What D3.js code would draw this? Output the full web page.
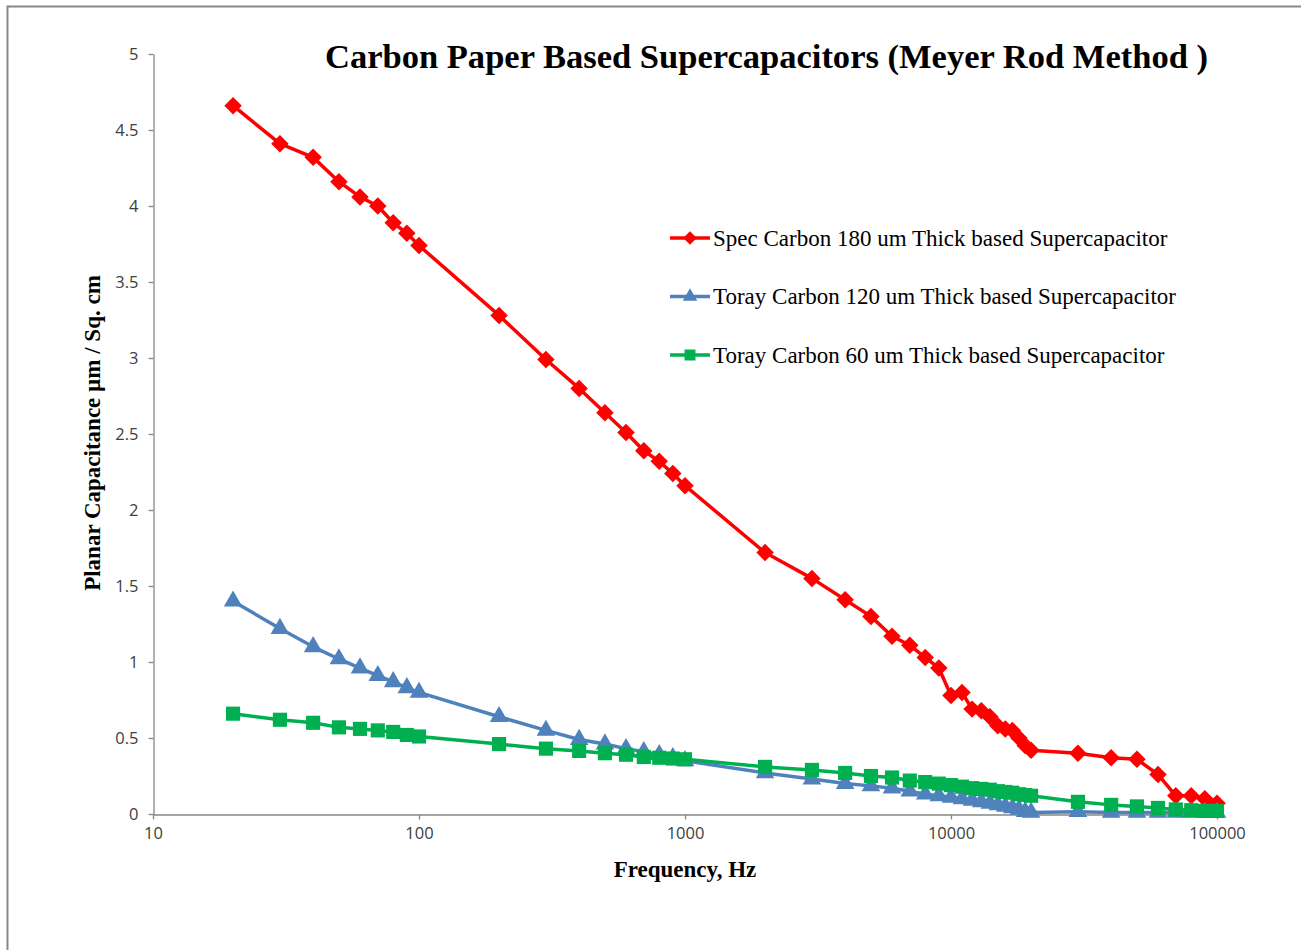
<!DOCTYPE html>
<html>
<head>
<meta charset="utf-8">
<script src="https://cdnjs.cloudflare.com/ajax/libs/d3/7.8.5/d3.min.js"></script>
<style>
  body { margin: 0; background: #fff; }
</style>
</head>
<body>
<div id="chart"></div>
<script>
// Frequencies (Hz) shared by all three series
const freqs = [20, 30, 40, 50, 60, 70, 80, 90, 100,
    200, 300, 400, 500, 600, 700, 800, 900, 1000,
    2000, 3000, 4000, 5000, 6000, 7000, 8000, 9000, 10000,
    11000, 12000, 13000, 14000, 15000, 16000, 17000, 18000, 19000, 20000,
    30000, 40000, 50000, 60000, 70000, 80000, 90000, 100000];

// Planar capacitance
const specCarbon180 = [4.66, 4.41, 4.32, 4.16, 4.06, 4.00, 3.89, 3.82, 3.74,
    3.28, 2.99, 2.80, 2.64, 2.51, 2.39, 2.32, 2.24, 2.16,
    1.72, 1.55, 1.41, 1.30, 1.17, 1.11, 1.03, 0.96, 0.78,
    0.80, 0.69, 0.68, 0.64, 0.58, 0.56, 0.55, 0.50, 0.45, 0.42,
    0.40, 0.37, 0.36, 0.26, 0.12, 0.12, 0.10, 0.07];

const toray120 = [1.40, 1.22, 1.10, 1.02, 0.96, 0.91, 0.87, 0.83, 0.80,
    0.64, 0.55, 0.49, 0.46, 0.43, 0.41, 0.39, 0.37, 0.35,
    0.27, 0.23, 0.20, 0.185, 0.17, 0.15, 0.13, 0.12, 0.11,
    0.10, 0.09, 0.08, 0.07, 0.06, 0.05, 0.04, 0.03, 0.015, 0.01,
    0.015, 0.01, 0.01, 0.01, 0.01, 0.01, 0.01, 0.01];

const toray60 = [0.66, 0.62, 0.60, 0.57, 0.56, 0.55, 0.54, 0.52, 0.51,
    0.46, 0.43, 0.415, 0.40, 0.39, 0.375, 0.37, 0.365, 0.36,
    0.31, 0.29, 0.27, 0.25, 0.24, 0.22, 0.21, 0.20, 0.19,
    0.18, 0.17, 0.165, 0.16, 0.15, 0.145, 0.14, 0.13, 0.125, 0.12,
    0.08, 0.06, 0.05, 0.04, 0.03, 0.025, 0.02, 0.02];

const seriesNames = ["Spec Carbon 180 um Thick based Supercapacitor",
    "Toray Carbon 120 um Thick based Supercapacitor",
    "Toray Carbon 60 um Thick based Supercapacitor"];

const xTicks = [10, 100, 1000, 10000, 100000];
const yTicks = [0, 0.5, 1, 1.5, 2, 2.5, 3, 3.5, 4, 4.5, 5];

const width = 1301, height = 950;
const serif = "'Liberation Serif', 'Times New Roman', serif";

const svg = d3.select("div#chart")
    .append("svg")
    .attr("width", width)
    .attr("height", height);

// outer chart frame (continues past the right and bottom edges)
svg.append("rect")
    .attr("x", 7.5).attr("y", 6.5)
    .attr("width", width).attr("height", height)
    .attr("fill", "#fff")
    .attr("stroke", "#878787")
    .attr("stroke-width", 2);

const x = d3.scaleLog().domain([10, 100000]).range([153, 1217]);
const y = d3.scaleLinear().domain([0, 5]).range([814, 54]);

// axes
const axisColor = "#868686";
const gx = svg.append("g")
    .attr("transform", "translate(0,814.5)")
    .call(d3.axisBottom(x).tickValues(xTicks).tickFormat(d3.format("d")).tickSize(5).tickSizeOuter(0).tickPadding(8));
const gy = svg.append("g")
    .attr("transform", "translate(153.5,0)")
    .call(d3.axisLeft(y).tickValues(yTicks).tickFormat(d => d).tickSize(5).tickSizeOuter(0).tickPadding(10));
[gx, gy].forEach(g => {
    g.select(".domain").attr("stroke", axisColor).attr("stroke-width", 1.3);
    g.selectAll(".tick line").attr("stroke", axisColor).attr("stroke-width", 1.3);
    g.selectAll(".tick text")
        .attr("fill", "#404040")
        .style("font-family", "'Open Sans', 'Liberation Sans', sans-serif")
        .style("font-size", "16.5px");
});

// series
const series = [
    { name: seriesNames[0], values: specCarbon180, color: "#ff0000", symbol: d3.symbolDiamond2, size: 195 },
    { name: seriesNames[1], values: toray120, color: "#4f81bd", symbol: d3.symbolTriangle, size: 150 },
    { name: seriesNames[2], values: toray60, color: "#00b050", symbol: d3.symbolSquare, size: 200 }
];

const line = d3.line()
    .x((d, i) => x(freqs[i]))
    .y(d => y(d));

series.forEach(s => {
    const g = svg.append("g");
    g.append("path")
        .datum(s.values)
        .attr("d", line)
        .attr("fill", "none")
        .attr("stroke", s.color)
        .attr("stroke-width", 3.5)
        .attr("stroke-linejoin", "round");
    g.selectAll("path.mark")
        .data(s.values)
        .join("path")
        .attr("class", "mark")
        .attr("d", d3.symbol().type(s.symbol).size(s.size))
        .attr("transform", (d, i) => "translate(" + x(freqs[i]) + "," + y(d) + ")")
        .attr("fill", s.color);
});

// legend
const legend = svg.append("g").attr("transform", "translate(670,238)");
series.forEach((s, i) => {
    const row = legend.append("g").attr("transform", "translate(0," + (i * 58.5) + ")");
    row.append("line")
        .attr("x1", 0).attr("x2", 40)
        .attr("stroke", s.color).attr("stroke-width", 3.5);
    row.append("path")
        .attr("d", d3.symbol().type(s.symbol).size(s.size * 0.6))
        .attr("transform", "translate(20,0)")
        .attr("fill", s.color);
    row.append("text")
        .attr("x", 43).attr("y", 7.5)
        .style("font-family", serif)
        .style("font-size", "23px")
        .attr("fill", "#000")
        .text(s.name);
});

// title
svg.append("text")
    .attr("x", 325).attr("y", 68)
    .attr("textLength", 883)
    .attr("lengthAdjust", "spacingAndGlyphs")
    .style("font-family", serif)
    .style("font-weight", "bold")
    .style("font-size", "34px")
    .text("Carbon Paper Based Supercapacitors (Meyer Rod Method )");

// axis titles
svg.append("text")
    .attr("x", 685).attr("y", 877)
    .attr("text-anchor", "middle")
    .style("font-family", serif)
    .style("font-weight", "bold")
    .style("font-size", "23px")
    .text("Frequency, Hz");

svg.append("text")
    .attr("transform", "translate(100,433) rotate(-90)")
    .attr("text-anchor", "middle")
    .style("font-family", serif)
    .style("font-weight", "bold")
    .style("font-size", "23px")
    .text("Planar Capacitance µm / Sq. cm");
</script>
</body>
</html>
